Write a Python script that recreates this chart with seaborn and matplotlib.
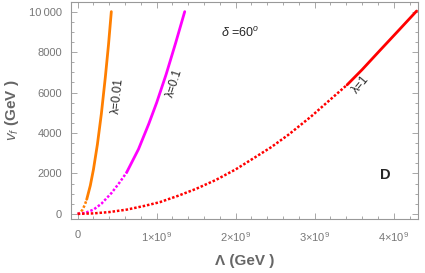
import matplotlib
matplotlib.use("Agg")
import matplotlib.pyplot as plt
import matplotlib.ticker as mticker
import seaborn as sns
import pandas as pd

# Lambda in units of 1e9 GeV, v_f in GeV
lam001_dot_x = [0.0, 0.03, 0.06, 0.09, 0.115]
lam001_dot_y = [0, 50, 200, 440, 720]
lam001_sol_x = [0.115, 0.16, 0.2, 0.25, 0.3, 0.35, 0.39, 0.426]
lam001_sol_y = [720, 1400, 2200, 3440, 4950, 6750, 8350, 10000]

lam01_dot_x = [0.0, 0.1, 0.2, 0.3, 0.43, 0.53, 0.62]
lam01_dot_y = [0, 55, 210, 500, 1040, 1550, 2050]
lam01_sol_x = [0.62, 0.77, 0.9, 1.0, 1.12, 1.24, 1.355]
lam01_sol_y = [2050, 3200, 4450, 5500, 6900, 8450, 10000]

lam1_dot_x = [0.0, 0.2, 0.4, 0.62, 0.85, 1.04, 1.275, 1.5, 1.75, 2.0, 2.23, 2.45, 2.67, 2.95, 3.22, 3.41]
lam1_dot_y = [0, 25, 90, 210, 400, 580, 900, 1240, 1680, 2200, 2760, 3300, 3920, 4800, 5730, 6380]
lam1_sol_x = [3.41, 3.6, 3.83, 4.05, 4.29]
lam1_sol_y = [6380, 7130, 8100, 9020, 10030]

x_ticks = [0, 1, 2, 3, 4]
x_tick_labels = ["0", r"1$\times$10$^{9}$", r"2$\times$10$^{9}$", r"3$\times$10$^{9}$", r"4$\times$10$^{9}$"]
y_ticks = [0, 2000, 4000, 6000, 8000, 10000]
y_tick_labels = ["0", "2000", "4000", "6000", "8000", "10\u2009000"]

sns.set_style("white")
plt.rcParams["font.family"] = ["Liberation Sans", "DejaVu Sans"]
plt.rcParams["mathtext.fontset"] = "custom"
plt.rcParams["mathtext.rm"] = "Liberation Sans"
plt.rcParams["mathtext.it"] = "Liberation Sans:italic"

fig = plt.figure(figsize=(4.25, 2.73), dpi=100)
ax = fig.add_axes([0.166, 0.198, 0.818, 0.795])

series = [
    (lam001_dot_x, lam001_dot_y, "#FF7F00", "dot"),
    (lam001_sol_x, lam001_sol_y, "#FF7F00", "solid"),
    (lam01_dot_x, lam01_dot_y, "#FF00FF", "dot"),
    (lam01_sol_x, lam01_sol_y, "#FF00FF", "solid"),
    (lam1_dot_x, lam1_dot_y, "#FF0000", "dot"),
    (lam1_sol_x, lam1_sol_y, "#FF0000", "solid"),
]
for xs, ys, col, st in series:
    df = pd.DataFrame({"x": xs, "y": ys})
    ls = (0, (1, 0.75)) if st == "dot" else "-"
    lw = 1.8 if st == "dot" else 2.0
    sns.lineplot(data=df, x="x", y="y", ax=ax, color=col, linestyle=ls,
                 linewidth=lw, sort=False, estimator=None)

ax.set_xlim(-0.09, 4.31)
ax.set_ylim(-250, 10480)
ax.set_xticks(x_ticks)
ax.set_xticklabels(x_tick_labels)
ax.set_yticks(y_ticks)
ax.set_yticklabels(y_tick_labels)
ax.xaxis.set_minor_locator(mticker.MultipleLocator(0.2))
ax.yaxis.set_minor_locator(mticker.MultipleLocator(500))

for s in ax.spines.values():
    s.set_color("#999999")
    s.set_linewidth(0.8)
ax.tick_params(which="both", direction="in", bottom=True, left=True, top=True, right=True,
               colors="#999999", labelcolor="#777777", labelsize=8, width=0.6)
ax.tick_params(which="major", length=4, pad=6)
ax.tick_params(axis="x", which="major", pad=8)
ax.tick_params(which="minor", length=2)

ax.set_xlabel("\u039b (GeV )", fontsize=11, fontweight="bold", color="#666666", labelpad=7)
ax.set_ylabel(r"$v_f$ (GeV )", fontsize=11, fontweight="bold", color="#666666", labelpad=6)

ax.text(0.51, 5860, "\u03bb=0.01", rotation=84, fontsize=8.5, ha="center", va="center")
ax.text(1.23, 6480, "\u03bb=0.1", rotation=72, fontsize=8.5, ha="center", va="center")
ax.text(3.58, 6380, "\u03bb=1", rotation=50, fontsize=8.5, ha="center", va="center")
ax.text(2.06, 8950, r"$\delta$ =60$^{o}$", fontsize=9, ha="center", va="center")
ax.text(3.89, 1940, "D", fontsize=10.5, fontweight="bold", ha="center", va="center")

fig.savefig("out.png", dpi=100)
